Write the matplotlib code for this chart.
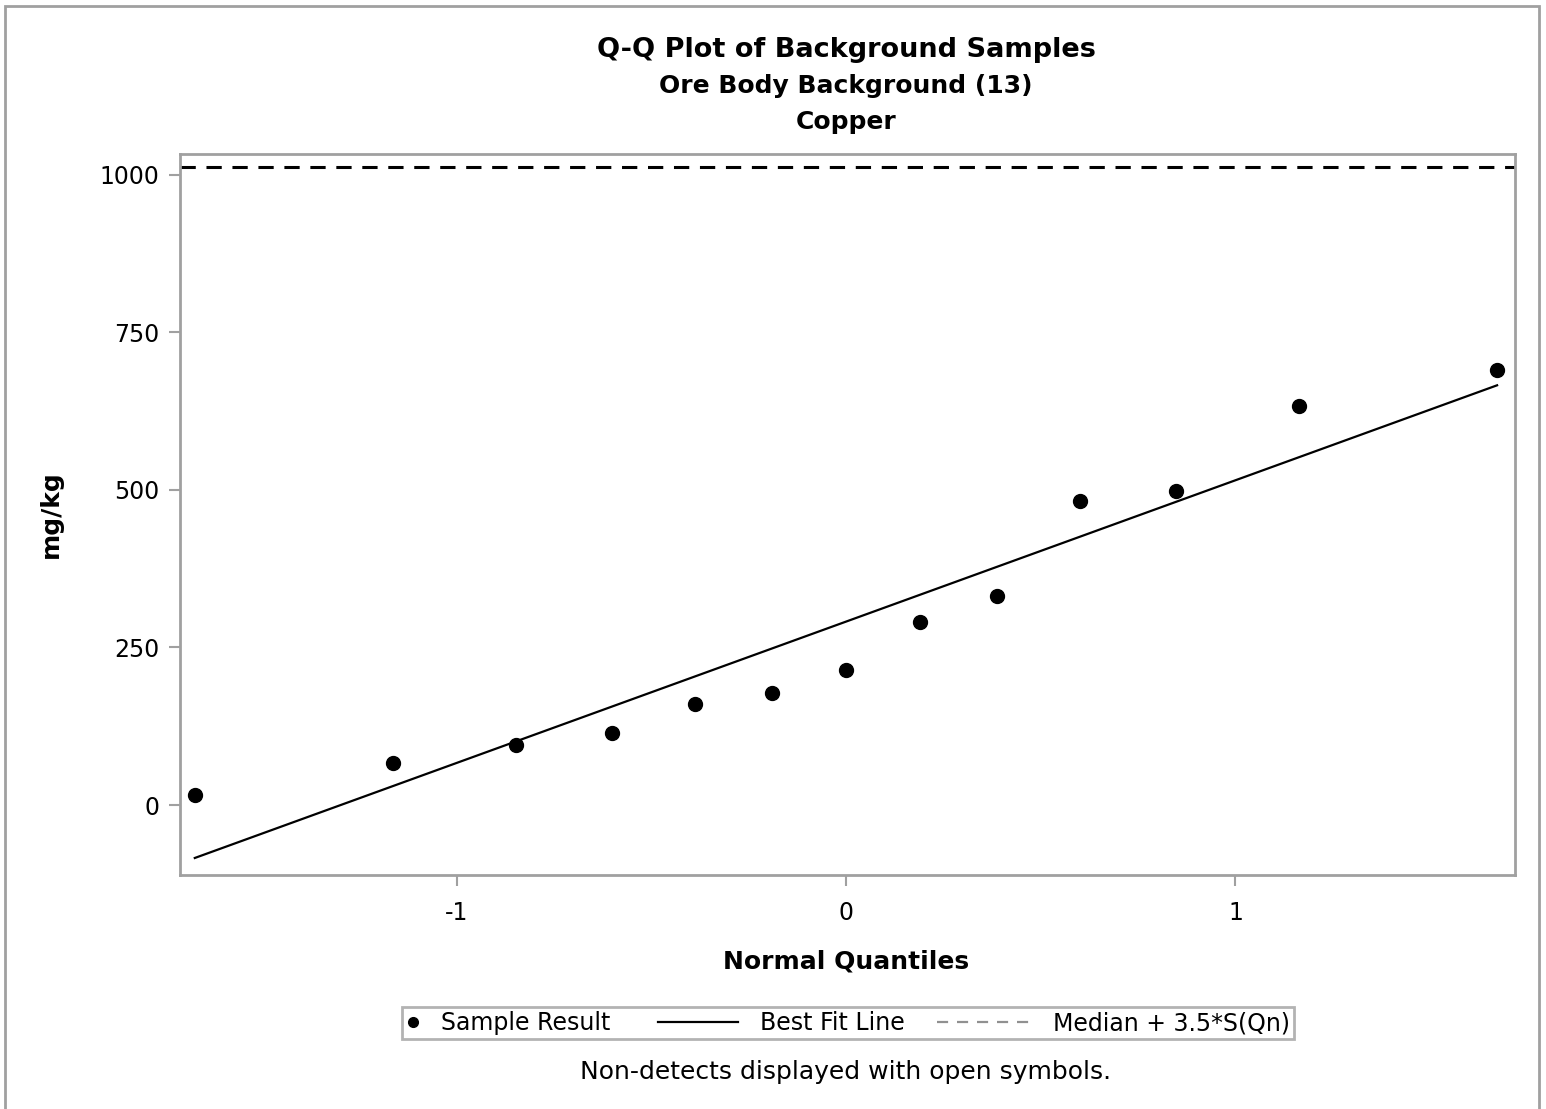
import matplotlib
matplotlib.use('Agg')
import matplotlib.pyplot as plt
from matplotlib.lines import Line2D
from matplotlib.patches import Rectangle
from matplotlib.legend_handler import HandlerBase

# data
quantiles = [-1.672, -1.163, -0.847, -0.601, -0.388, -0.190, 0.0,
             0.190, 0.388, 0.601, 0.847, 1.163, 1.672]
results = [16, 67, 95, 114, 161, 178, 215, 291, 332, 482, 499, 633, 690]
fit_x = [-1.672, 1.672]
fit_y = [-84, 666]
threshold = 1013

yticks = [0, 250, 500, 750, 1000]
xticks = [-1, 0, 1]

plt.rcParams['font.family'] = ['DejaVu Sans']
plt.rcParams['axes.unicode_minus'] = False
frame_gray = '#a0a0a0'


class LeftLongLine(HandlerBase):
    # legend line that reaches left past the (short) handle box
    def __init__(self, length, **kw):
        super().__init__(**kw)
        self.length = length

    def create_artists(self, legend, orig_handle, xdescent, ydescent,
                       width, height, fontsize, trans):
        x1 = width - xdescent
        x0 = x1 - self.length * fontsize
        y = height / 2 - ydescent
        ln = Line2D([x0, x1], [y, y])
        ln.update_from(orig_handle)
        ln.set_transform(trans)
        return [ln]


fig = plt.figure(figsize=(15.46, 11.09), dpi=100)
ax = fig.add_axes([180 / 1546, 1 - 875 / 1109, 1335 / 1546, 721 / 1109])

ax.plot(fit_x, fit_y, color='black', linewidth=1.6)
ax.axhline(threshold, color='black', linewidth=2.2, linestyle=(0, (5, 3.5)))
ax.scatter(quantiles, results, s=100, color='black', zorder=3)

ax.set_xlim(-1.71, 1.718)
ax.set_ylim(-111, 1033)
ax.set_xticks(xticks)
ax.set_yticks(yticks)
ax.tick_params(direction='out', length=8, width=1.5, color=frame_gray,
               labelsize=17)
ax.tick_params(axis='x', pad=11)
ax.tick_params(axis='y', pad=7)
for s in ax.spines.values():
    s.set_color(frame_gray)
    s.set_linewidth(2)

fig.text(846 / 1546, 1 - 962 / 1109, 'Normal Quantiles',
         ha='center', va='center', fontsize=18, fontweight='bold')
fig.text(51 / 1546, 1 - 514 / 1109, 'mg/kg', rotation=90,
         ha='center', va='center', fontsize=18, fontweight='bold')

fig.text(846 / 1546, 1 - 50 / 1109, 'Q-Q Plot of Background Samples',
         ha='center', va='center', fontsize=19.5, fontweight='bold')
fig.text(846 / 1546, 1 - 86 / 1109, 'Ore Body Background (13)',
         ha='center', va='center', fontsize=18, fontweight='bold')
fig.text(846 / 1546, 1 - 122 / 1109, 'Copper',
         ha='center', va='center', fontsize=18, fontweight='bold')

h_dot = Line2D([], [], marker='o', color='black', linestyle='none', markersize=7)
h_fit = Line2D([], [], color='black', linewidth=1.6)
h_med = Line2D([], [], color='#909090', linewidth=1.6, linestyle=(0, (5, 4)))
handles = [h_dot, h_fit, h_med]
labels = ['Sample Result', 'Best Fit Line', 'Median + 3.5*S(Qn)']
leg = fig.legend(handles, labels, loc='center', ncol=3,
                 bbox_to_anchor=(848 / 1546, 1 - 1023 / 1109),
                 fontsize=17, frameon=True, fancybox=False, numpoints=1,
                 handlelength=0.6, handletextpad=0.9, columnspacing=4.8,
                 borderpad=0.15, borderaxespad=0, edgecolor=frame_gray,
                 handler_map={h_fit: LeftLongLine(3.4),
                              h_med: LeftLongLine(4.0)})
leg.get_frame().set_linewidth(2)
leg._legend_box.sep = 0

fig.text(846 / 1546, 1 - 1072 / 1109, 'Non-detects displayed with open symbols.',
         ha='center', va='center', fontsize=18)

fig.patches.append(Rectangle((5 / 1546, -0.05), 1534 / 1546, 1.05 - 6 / 1109,
                             transform=fig.transFigure, fill=False,
                             edgecolor=frame_gray, linewidth=2))

fig.savefig('out.png', dpi=100)
plt.close(fig)
